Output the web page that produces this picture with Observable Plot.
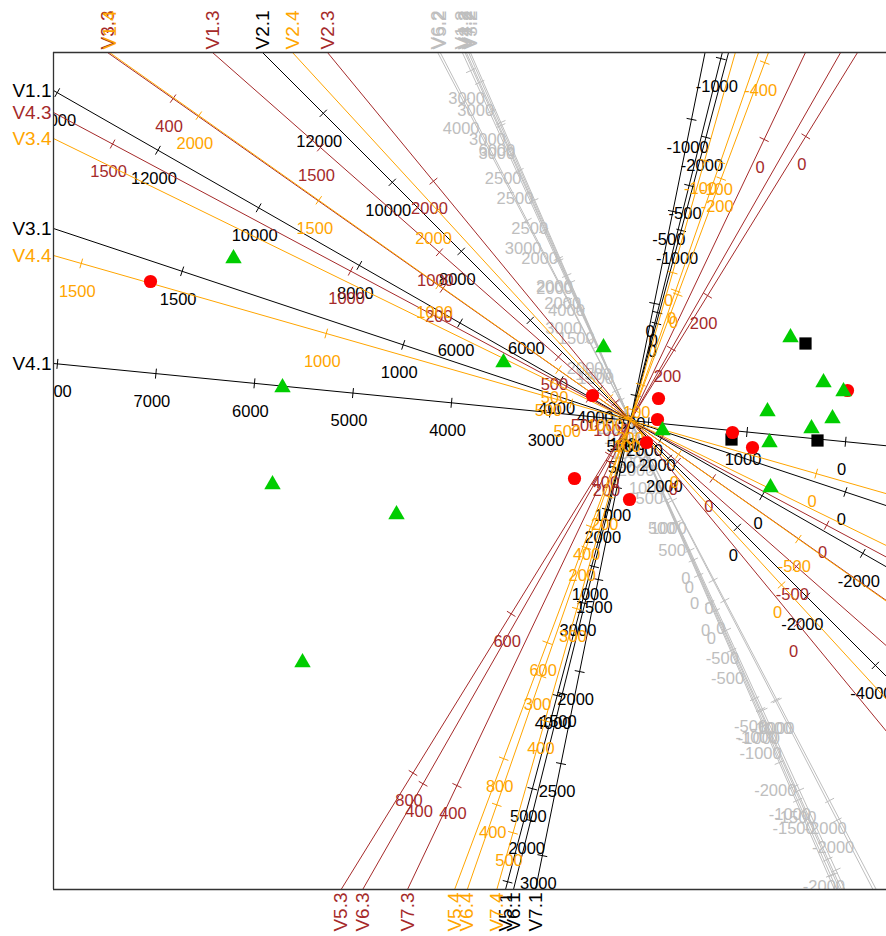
<!DOCTYPE html>
<html>
<head>
<meta charset="utf-8">
<script src="https://cdn.jsdelivr.net/npm/d3@7"></script>
<script src="https://cdn.jsdelivr.net/npm/@observablehq/plot@0.6"></script>
<style>
  body { margin: 0; background: #fff; }
</style>
</head>
<body>
<div id="chart"></div>
<script>
// Calibrated biplot: every variable axis runs through the origin.
// Group suffix .1 black, .2 grey, .3 brown, .4 orange.
const axisNames = [
  "V1.1", "V2.1", "V3.1", "V4.1", "V5.1", "V6.1", "V7.1",
  "V1.2", "V2.2", "V3.2", "V4.2", "V5.2", "V6.2", "V7.2",
  "V1.3", "V2.3", "V3.3", "V4.3", "V5.3", "V6.3", "V7.3",
  "V1.4", "V2.4", "V3.4", "V4.4", "V5.4", "V6.4", "V7.4"
];
const axisGroup = [
  1, 1, 1, 1, 1, 1, 1,
  2, 2, 2, 2, 2, 2, 2,
  3, 3, 3, 3, 3, 3, 3,
  4, 4, 4, 4, 4, 4, 4
];
// direction of increasing values (loading vector)
const axisDirX = [
  -5.77, -3.68, -5.77, -5.77, -0.2665, -0.2495, -0.2026,
  -0.457, -0.446, -0.435, -0.45, -0.517, -0.524, -0.44,
  -4.18, -3.03, -5.23, -5.77, -0.617, -0.571, -0.4755,
  -5.21, -3.38, -5.77, -5.77, -0.375, -0.348, -0.285
];
const axisDirY = [
  3.30, 3.68, 1.92, 0.57, -1, -1, -1,
  1, 1, 1, 1, 1, 1, 1,
  3.68, 3.68, 3.68, 3.08, -1, -1, -1,
  3.68, 3.68, 2.82, 1.65, -1, -1, -1
];
// value of each variable at the origin
const axisMean = [
  2614, 3097, 486, 2183, 1043, 425, 636,
  812, 1080, 2275, 933, 1333, 1800, 1033,
  197, 918, 61, 412, 357, 233, 174,
  200, 878, 425, 379, 217, 101, 132
];
// tick interval and its length along the axis
const axisStep = [
  2000, 2000, 500, 1000, 1000, 500, 500,
  500, 500, 2000, 1000, 1000, 1000, 500,
  500, 1000, 200, 500, 200, 200, 200,
  500, 1000, 500, 500, 200, 100, 100
];
const axisStepLength = [
  1.16, 0.976, 2.33, 0.99, 0.963, 1.309, 0.939,
  0.879, 0.964, 1.745, 1.64, 1.35, 1.129, 0.819,
  1.585, 2.865, 3.30, 2.698, 1.87, 5.01, 3.577,
  1.468, 2.543, 5.79, 2.548, 1.239, 1.361, 1.165
];
const axisTickLo = [
  -2000, -4000, -500, -1000, -2000, -1000, -1000,
  -2000, -1500, -4000, -2000, -3000, -3000, -2500,
  -1000, -1000, -200, -500, 0, 0, -200,
  -1000, 0, 0, 0, -400, -100, -100
];
const axisTickHi = [
  14000, 12000, 1500, 8000, 6000, 2000, 3000,
  3000, 3000, 6000, 3000, 4000, 3000, 3000,
  2000, 2000, 400, 1500, 800, 400, 400,
  2000, 2000, 1500, 1500, 800, 400, 500
];

// samples
const circleX = [-4.80, -0.38, 0.28, 0.27, 0.16, -0.56, -0.01, 1.02, 1.22, 2.17];
const circleY = [1.39, 0.25, 0.22, 0.01, -0.22, -0.58, -0.79, -0.12, -0.27, 0.30];
const triangleX = [-3.97, -3.48, -3.58, -2.34, -3.28, -1.27, -0.27, 0.32, 1.60, 1.93, 2.13, 1.37, 2.02, 1.81, 1.39, 1.40];
const triangleY = [1.62, 0.33, -0.64, -0.94, -2.42, 0.58, 0.73, -0.10, 0.83, 0.38, 0.29, 0.09, 0.02, -0.08, -0.22, -0.67];
const squareX = [1.75, 1.01, 1.87];
const squareY = [0.77, -0.19, -0.20];

const groupColor = {1: "#000000", 2: "#bebebe", 3: "#a52a2a", 4: "#ffa500"};
const drawOrder = [2, 1, 3, 4];

const X0 = -5.77, X1 = 2.56, Y0 = -4.69, Y1 = 3.68;
const tickHalf = 0.05;

const axes = axisNames.map((name, i) => {
  const n = Math.hypot(axisDirX[i], axisDirY[i]);
  return {
    name, group: axisGroup[i],
    ux: axisDirX[i] / n, uy: axisDirY[i] / n,
    mean: axisMean[i], step: axisStep[i], stepLength: axisStepLength[i],
    lo: axisTickLo[i], hi: axisTickHi[i]
  };
});

// calibration ticks; only those lying inside the plot region are drawn
const ticks = axes.flatMap(a =>
  d3.range(a.lo, a.hi + a.step / 2, a.step).map(v => {
    const t = (v - a.mean) / a.step * a.stepLength;
    return {group: a.group, value: v, x: t * a.ux, y: t * a.uy, nx: -a.uy, ny: a.ux};
  })
).filter(t => t.x >= X0 && t.x <= X1 + 0.3 && t.y >= Y0 && t.y <= Y1);

// where each axis leaves the frame on its positive side
const ends = axes.map(a => {
  const c = [];
  if (a.ux < 0) c.push([X0 / a.ux, "left"]);
  if (a.ux > 0) c.push([X1 / a.ux, "right"]);
  if (a.uy > 0) c.push([Y1 / a.uy, "top"]);
  if (a.uy < 0) c.push([Y0 / a.uy, "bottom"]);
  const [t, side] = c.reduce((m, d) => d[0] < m[0] ? d : m);
  return {...a, x: t * a.ux, y: t * a.uy, side};
});

const points = (xs, ys) => xs.map((x, i) => ({x, y: ys[i]}));

const marks = [];
for (const g of drawOrder) {
  const col = groupColor[g];
  const ga = axes.filter(a => a.group === g);
  const gt = ticks.filter(t => t.group === g);
  marks.push(
    Plot.link(ga, {
      x1: a => -20 * a.ux, y1: a => -20 * a.uy,
      x2: a => 20 * a.ux, y2: a => 20 * a.uy,
      stroke: col, strokeWidth: 1, clip: true
    }),
    Plot.link(gt, {
      x1: t => t.x - tickHalf * t.nx, y1: t => t.y - tickHalf * t.ny,
      x2: t => t.x + tickHalf * t.nx, y2: t => t.y + tickHalf * t.ny,
      stroke: col, strokeWidth: 1, clip: true
    }),
    Plot.text(gt, {
      x: "x", y: "y", text: t => String(t.value),
      fill: col, fontSize: 16.5, dx: -4, dy: 28, clip: true
    })
  );
  const ge = ends.filter(e => e.group === g);
  marks.push(
    Plot.text(ge.filter(e => e.side === "left"), {
      x: "x", y: "y", text: "name", fill: col, fontSize: 19,
      textAnchor: "end", dx: -2
    }),
    Plot.text(ge.filter(e => e.side === "top"), {
      x: "x", y: "y", text: "name", fill: col, fontSize: 19,
      rotate: -90, textAnchor: "start", dy: -3
    }),
    Plot.text(ge.filter(e => e.side === "bottom"), {
      x: "x", y: "y", text: "name", fill: col, fontSize: 19,
      rotate: -90, textAnchor: "end", dy: 3
    })
  );
}

marks.push(
  Plot.dot(points(squareX, squareY), {x: "x", y: "y", symbol: "square", r: 6.9, fill: "#000000"}),
  Plot.dot(points(circleX, circleY), {x: "x", y: "y", symbol: "circle", r: 6.6, fill: "#ff0000"}),
  Plot.dot(points(triangleX, triangleY), {x: "x", y: "y", symbol: "triangle", r: 6.1, fill: "#00cd00"}),
  Plot.ruleX([X0], {stroke: "#333333", strokeWidth: 1.3}),
  Plot.ruleY([Y0, Y1], {stroke: "#333333", strokeWidth: 1.3})
);

const chart = Plot.plot({
  width: 886,
  height: 936,
  marginLeft: 53,
  marginRight: 0,
  marginTop: 52,
  marginBottom: 47,
  x: {domain: [X0, X1], axis: null},
  y: {domain: [Y0, Y1], axis: null},
  style: {fontFamily: "'Liberation Sans', Arial, sans-serif", background: "#ffffff"},
  marks
});
document.getElementById("chart").appendChild(chart);
</script>
</body>
</html>
